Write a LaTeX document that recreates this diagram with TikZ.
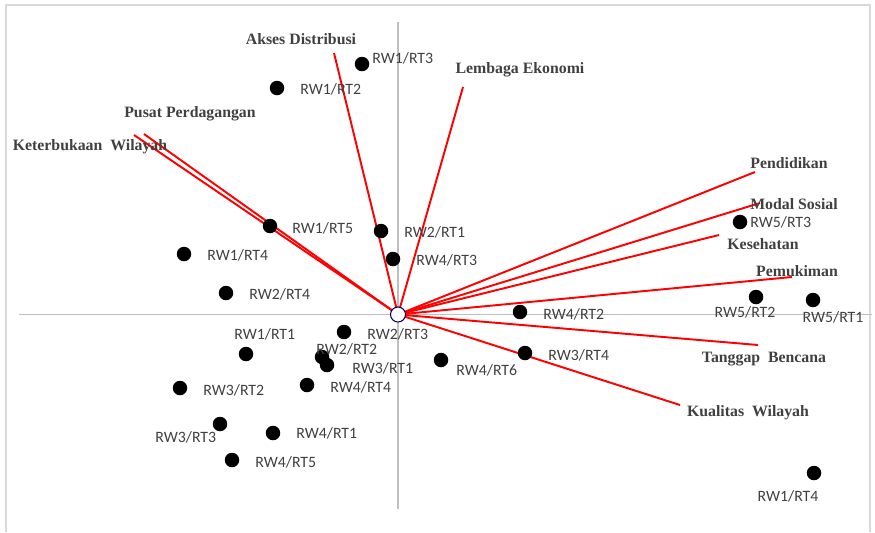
\documentclass[tikz,border=0pt]{standalone}
\usepackage{fontspec}
\setmainfont{Liberation Serif}
\newfontfamily\calibri{Carlito}
\definecolor{axisgray}{HTML}{BFBFBF}
\definecolor{framegray}{HTML}{D9D9D9}
\definecolor{txtgray}{HTML}{404040}
\begin{document}
\begin{tikzpicture}[x=0.02cm,y=-0.02cm,
        dot/.style={circle,fill=black,inner sep=0pt,minimum size=0.29cm},
        ptlbl/.style={text=txtgray,font=\calibri\fontsize{9}{10}\selectfont,inner sep=0pt},
        varlbl/.style={text=txtgray,font=\bfseries\fontsize{9}{10}\selectfont,inner sep=0pt},
        vec/.style={red,line width=1.1pt}]
        \useasboundingbox (0,0) rectangle (875,532);
        \draw[framegray,line width=0.9pt] (6,532) -- (6,5) -- (870,5) -- (870,532);

        % axes
        \draw[axisgray,line width=1pt] (19,314.5) -- (872,314.5);
        \draw[axisgray,line width=1pt] (398,22) -- (398,509);

        % variable vectors
        \coordinate (o) at (398,314.5);
        \coordinate (akses) at (334,53);
        \coordinate (lembaga) at (463,87);
        \coordinate (pusat) at (144,134);
        \coordinate (keterbukaan) at (134,135);
        \coordinate (pendidikan) at (755,172);
        \coordinate (modal) at (760,203);
        \coordinate (kesehatan) at (719,235);
        \coordinate (pemukiman) at (792,277);
        \coordinate (tanggap) at (758,345);
        \coordinate (kualitas) at (680,405);
        \foreach \v in {akses,lembaga,pusat,keterbukaan,pendidikan,modal,kesehatan,pemukiman,tanggap,kualitas}
            \draw[vec] (o) -- (\v);
        \node[circle,draw=black!70!blue,fill=white,inner sep=0pt,minimum size=0.3cm,line width=0.6pt] (orig) at (o) {};

        \node[varlbl] (l-akses) at (301,39) {Akses Distribusi};
        \node[varlbl] (l-lembaga) at (520,70) {Lembaga Ekonomi};
        \node[varlbl] (l-pusat) at (190,114) {Pusat Perdagangan};
        \node[varlbl] (l-keterbukaan) at (90,147) {Keterbukaan\ \ Wilayah};
        \node[varlbl] (l-pendidikan) at (789,163) {Pendidikan};
        \node[varlbl] (l-modal) at (794,204) {Modal Sosial};
        \node[varlbl] (l-kesehatan) at (763,244) {Kesehatan};
        \node[varlbl] (l-pemukiman) at (797,271) {Pemukiman};
        \node[varlbl] (l-tanggap) at (764,359) {Tanggap\ \ Bencana};
        \node[varlbl] (l-kualitas) at (748,413) {Kualitas\ \ Wilayah};

        % observations
        \node[dot] (rw1rt3) at (362,64) {};
        \node[ptlbl,anchor=west] at (372,58) {RW1/RT3};
        \node[dot] (rw1rt2) at (277,88) {};
        \node[ptlbl,anchor=west] at (300,89) {RW1/RT2};
        \node[dot] (rw1rt5) at (270,226) {};
        \node[ptlbl,anchor=west] at (292,228) {RW1/RT5};
        \node[dot] (rw2rt1) at (381,231) {};
        \node[ptlbl,anchor=west] at (404,232) {RW2/RT1};
        \node[dot] (rw1rt4a) at (184,254) {};
        \node[ptlbl,anchor=west] at (207,255) {RW1/RT4};
        \node[dot] (rw4rt3) at (393,259) {};
        \node[ptlbl,anchor=west] at (416,260) {RW4/RT3};
        \node[dot] (rw2rt4) at (226,293) {};
        \node[ptlbl,anchor=west] at (249,294) {RW2/RT4};
        \node[dot] (rw2rt3) at (344,332) {};
        \node[ptlbl,anchor=west] at (367,334) {RW2/RT3};
        \node[dot] (rw1rt1) at (246,354) {};
        \node[ptlbl,anchor=west] at (234,334) {RW1/RT1};
        \node[dot] (rw2rt2) at (322,357) {};
        \node[ptlbl,anchor=west] at (316,349) {RW2/RT2};
        \node[dot] (rw3rt1) at (327,365) {};
        \node[ptlbl,anchor=west] at (352,368) {RW3/RT1};
        \node[dot] (rw3rt2) at (180,388) {};
        \node[ptlbl,anchor=west] at (203,390) {RW3/RT2};
        \node[dot] (rw4rt4) at (307,385) {};
        \node[ptlbl,anchor=west] at (330,387) {RW4/RT4};
        \node[dot] (rw3rt3) at (220,424) {};
        \node[ptlbl,anchor=west] at (155,437) {RW3/RT3};
        \node[dot] (rw4rt1) at (273,433) {};
        \node[ptlbl,anchor=west] at (296,433) {RW4/RT1};
        \node[dot] (rw4rt5) at (232,460) {};
        \node[ptlbl,anchor=west] at (255,462) {RW4/RT5};
        \node[dot] (rw4rt6) at (441,360) {};
        \node[ptlbl,anchor=west] at (456,370) {RW4/RT6};
        \node[dot] (rw4rt2) at (520,312) {};
        \node[ptlbl,anchor=west] at (543,314) {RW4/RT2};
        \node[dot] (rw3rt4) at (525,353) {};
        \node[ptlbl,anchor=west] at (548,355) {RW3/RT4};
        \node[dot] (rw5rt3) at (740,222) {};
        \node[ptlbl,anchor=west] at (750,222) {RW5/RT3};
        \node[dot] (rw5rt2) at (756,297) {};
        \node[ptlbl] at (745,312) {RW5/RT2};
        \node[dot] (rw5rt1) at (813,300) {};
        \node[ptlbl] at (833,317) {RW5/RT1};
        \node[dot] (rw1rt4b) at (814,473) {};
        \node[ptlbl] at (788,496) {RW1/RT4};
    \end{tikzpicture}
\end{document}
